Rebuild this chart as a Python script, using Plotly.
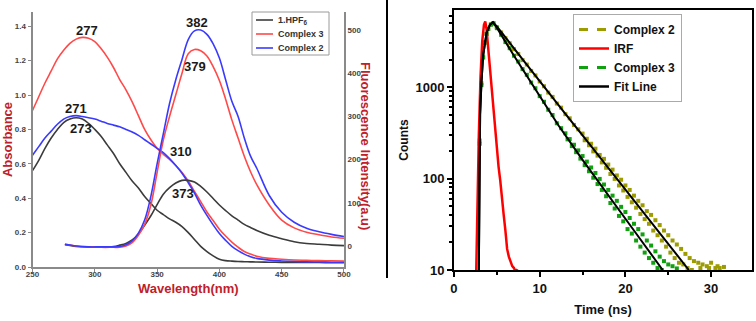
import plotly.graph_objects as go

# ---------------- Left panel data ----------------
wl_abs = [250, 255, 260, 265, 270, 275, 280, 285, 290, 295, 300, 305, 310, 315, 320, 325, 330, 335,
          340, 345, 350, 355, 360, 365, 370, 375, 380, 385, 390, 395, 400, 405, 410, 415, 420, 425,
          430, 440, 450, 460, 470, 480, 490, 500]
abs_hpf = [0.56, 0.62, 0.69, 0.75, 0.80, 0.84, 0.86, 0.868, 0.86, 0.835, 0.80, 0.76, 0.71, 0.66, 0.60,
           0.55, 0.50, 0.46, 0.41, 0.37, 0.33, 0.305, 0.28, 0.26, 0.235, 0.20, 0.16, 0.12, 0.09, 0.065,
           0.045, 0.037, 0.034, 0.032, 0.031, 0.030, 0.029, 0.028, 0.027, 0.027, 0.026, 0.026, 0.025, 0.025]
abs_c3 = [0.91, 0.99, 1.07, 1.14, 1.21, 1.26, 1.30, 1.325, 1.335, 1.33, 1.31, 1.27, 1.22, 1.16, 1.09,
          1.03, 0.96, 0.88, 0.80, 0.74, 0.69, 0.655, 0.625, 0.59, 0.55, 0.50, 0.44, 0.38, 0.32, 0.27,
          0.22, 0.18, 0.145, 0.115, 0.09, 0.075, 0.063, 0.05, 0.045, 0.041, 0.039, 0.037, 0.036, 0.035]
abs_c2 = [0.65, 0.70, 0.75, 0.79, 0.83, 0.86, 0.875, 0.88, 0.875, 0.868, 0.86, 0.848, 0.835, 0.825, 0.815,
          0.80, 0.785, 0.765, 0.74, 0.715, 0.69, 0.665, 0.63, 0.59, 0.545, 0.49, 0.43, 0.36, 0.30, 0.245,
          0.195, 0.155, 0.12, 0.095, 0.075, 0.06, 0.05, 0.04, 0.035, 0.032, 0.03, 0.029, 0.028, 0.028]

wl_fl = [276, 285, 295, 305, 315, 320, 325, 330, 335, 340, 345, 350, 355, 360, 365, 370, 375, 380,
         385, 390, 395, 400, 405, 410, 415, 420, 425, 430, 440, 450, 460, 470, 480, 490, 500]
fl_hpf = [3, -1, -2, -2, -1, 2, 6, 14, 28, 48, 70, 96, 120, 135, 146, 152, 152, 148,
          138, 125, 110, 95, 82, 70, 60, 50, 43, 36, 25, 17, 10, 6, 4, 2, 1]
fl_c3 = [4, 0, -2, -3, -3, -3, 0, 8, 25, 50, 95, 170, 245, 300, 350, 400, 445, 455,
         452, 440, 415, 383, 340, 292, 250, 208, 172, 142, 95, 60, 42, 32, 26, 21, 18]
fl_c2 = [4, 0, -2, -2, -2, -1, 3, 12, 30, 60, 115, 190, 260, 330, 385, 432, 478, 498,
         500, 490, 468, 435, 385, 335, 300, 250, 208, 180, 117, 78, 55, 41, 33, 27, 22]

series_names = ["1.HPF<sub>6</sub>", "Complex 3", "Complex 2"]

peak_labels = ["277", "271", "273", "310", "373", "382", "379"]
peak_x = [293.7, 284.9, 288.9, 369.2, 370.8, 382.0, 380.4]
peak_y = [1.374, 0.92, 0.804, 0.671, 0.43, 1.419, 1.163]

# ---------------- Right panel data ----------------
t_irf = [2.6, 2.75, 2.9, 3.1, 3.3, 3.5, 3.65, 3.8, 4.0, 4.2, 4.4, 4.6, 4.8, 5.0, 5.2, 5.4, 5.6,
         5.8, 6.0, 6.2, 6.4, 6.6, 6.8, 7.0, 7.2, 7.4]
irf = [10, 60, 300, 1300, 3200, 4800, 5200, 4300, 2600, 1600, 950, 600, 370, 200, 135, 95, 58,
       40, 27, 17, 14, 12.5, 11, 10.5, 9.5, 10.2]

t_c2 = [3.0, 3.2, 3.4, 3.6, 3.8, 4.0, 4.3, 4.6, 5.0, 5.5, 6.0, 6.5, 7.0, 7.5, 8.0, 8.5, 9.0, 9.5,
        10.0, 10.5, 11.0, 11.5, 12.0, 12.5, 13.0, 13.5, 14.0, 14.5,
        15.0, 15.25, 15.5, 15.75, 16.0, 16.25, 16.5, 16.75, 17.0, 17.25, 17.5, 17.75, 18.0, 18.25,
        18.5, 18.75, 19.0, 19.25, 19.5, 19.75, 20.0, 20.25, 20.5, 20.75, 21.0, 21.25, 21.5, 21.75,
        22.0, 22.25, 22.5, 22.75, 23.0, 23.25, 23.5, 23.75, 24.0, 24.25, 24.5, 24.75, 25.0, 25.25,
        25.5, 25.75, 26.0, 26.25, 26.5, 26.75, 27.0, 27.25, 27.5, 27.75, 28.0, 28.25, 28.5, 28.75,
        29.0, 29.25, 29.5, 29.75, 30.0, 30.25, 30.5, 30.75, 31.0, 31.25, 31.5]
c2 = [260, 1100, 2150, 3100, 3850, 4350, 4850, 5000, 4520, 3950, 3420, 3010, 2590, 2300, 1970, 1760,
      1500, 1340, 1150, 1020, 870, 780, 660, 595, 505, 455, 385, 345,
      310, 262, 272, 231, 240, 198, 212, 178, 181, 150, 164, 131, 142, 112, 125, 99, 108, 84,
      97, 74, 84, 63, 75, 55, 65, 48, 57, 41, 51, 36, 44, 32, 40, 27, 35, 24, 31, 21, 27, 18,
      24, 15.5, 21, 13.5, 19, 12, 17, 11.5, 15, 10.5, 13.5, 10, 12.5, 9.5, 12, 10.5, 11.5, 9,
      11, 10.5, 12, 9, 10.5, 11, 10.5, 9, 10.8]

t_c3 = [3.0, 3.2, 3.4, 3.6, 3.8, 4.0, 4.3, 4.6, 5.0, 5.5, 6.0, 6.5, 7.0, 7.5, 8.0, 8.5, 9.0, 9.5,
        10.0, 10.5, 11.0, 11.5, 12.0, 12.5,
        13.0, 13.25, 13.5, 13.75, 14.0, 14.25, 14.5, 14.75, 15.0, 15.25, 15.5, 15.75, 16.0, 16.25,
        16.5, 16.75, 17.0, 17.25, 17.5, 17.75, 18.0, 18.25, 18.5, 18.75, 19.0, 19.25, 19.5, 19.75,
        20.0, 20.25, 20.5, 20.75, 21.0, 21.25, 21.5, 21.75, 22.0, 22.25, 22.5, 22.75, 23.0, 23.25,
        23.5, 23.75, 24.0, 24.25, 24.5, 24.75, 25.0, 25.25, 25.5, 25.75, 26.0]
c3 = [240, 1050, 2100, 3050, 3800, 4300, 4800, 4950, 4400, 3720, 3100, 2660, 2200, 1900, 1570, 1360,
      1120, 970, 795, 690, 565, 495, 402, 355,
      312, 268, 270, 226, 234, 194, 203, 165, 176, 140, 153, 120, 132, 102, 115, 87, 99, 75,
      86, 64, 75, 54, 65, 47, 57, 39, 49, 34, 43, 28, 37, 25, 32, 21, 28, 18, 24.5, 15.5,
      21, 13.5, 18.5, 12, 16, 10.5, 14, 10, 12.5, 9.5, 11.5, 9, 11, 9.5, 10.4]

t_fit2 = [2.9, 2.95, 3.05, 3.2, 3.4, 3.8, 4.2, 4.55, 5.0, 7.0, 10.0, 13.0, 16.0, 20.0, 24.0, 27.4]
fit2 = [10, 100, 500, 1100, 2200, 3900, 4800, 5100, 4600, 2650, 1150, 510, 226, 76, 26, 10]
t_fit3 = [2.9, 2.95, 3.05, 3.2, 3.4, 3.8, 4.2, 4.55, 5.0, 7.0, 10.0, 12.2, 15.0, 18.0, 21.0, 24.35]
fit3 = [10, 100, 500, 1100, 2200, 3900, 4800, 5100, 4450, 2200, 800, 380, 160, 65, 27, 10]

# ---------------- styling ----------------
W, H = 756, 321
FONT = "Arial, Liberation Sans, sans-serif"
RED_T = "#c0202a"
LEFT_COLORS = ["#3c3c3c", "#ff4a4a", "#3a3aff"]
OLIVE = "#9c9c00"
GREEN = "#10a010"


def px(x):
    return x / W


def py(y):
    return 1 - y / H


fig = go.Figure()

# absorbance (left axis)
for name, ys, col in zip(series_names, [abs_hpf, abs_c3, abs_c2], LEFT_COLORS):
    fig.add_trace(go.Scatter(x=wl_abs, y=ys, mode="lines", name=name, showlegend=False,
                             line=dict(color=col, width=1.6, shape="spline"), xaxis="x", yaxis="y"))
# fluorescence (right axis)
for name, ys, col in zip(series_names, [fl_hpf, fl_c3, fl_c2], LEFT_COLORS):
    fig.add_trace(go.Scatter(x=wl_fl, y=ys, mode="lines", name=name, showlegend=False,
                             line=dict(color=col, width=1.6, shape="spline"), xaxis="x", yaxis="y2"))

# right panel data
fig.add_trace(go.Scatter(x=t_c2, y=c2, mode="markers", name="Complex 2", showlegend=False, legendgroup="c2",
                         marker=dict(color=OLIVE, size=4, symbol="square"), xaxis="x2", yaxis="y3"))
fig.add_trace(go.Scatter(x=t_c3, y=c3, mode="markers", name="Complex 3", showlegend=False, legendgroup="c3",
                         marker=dict(color=GREEN, size=4, symbol="square"), xaxis="x2", yaxis="y3"))
fig.add_trace(go.Scatter(x=t_irf, y=irf, mode="lines", name="IRF", showlegend=False, legendgroup="irf",
                         line=dict(color="#ff0000", width=2.5), xaxis="x2", yaxis="y3"))
fig.add_trace(go.Scatter(x=t_fit2, y=fit2, mode="lines", name="Fit Line", showlegend=False, legendgroup="fit",
                         line=dict(color="#000000", width=2), xaxis="x2", yaxis="y3"))
fig.add_trace(go.Scatter(x=t_fit3, y=fit3, mode="lines", name="Fit Line", showlegend=False, legendgroup="fit",
                         line=dict(color="#000000", width=2), xaxis="x2", yaxis="y3"))
# legend entries for the right panel
for name, col, dash, grp in [("Complex 2", OLIVE, "dash", "c2"), ("IRF", "#ff0000", "solid", "irf"),
                             ("Complex 3", GREEN, "dash", "c3"), ("Fit Line", "#000000", "solid", "fit")]:
    fig.add_trace(go.Scatter(x=[None], y=[None], mode="lines", name=name, legendgroup=grp,
                             line=dict(color=col, width=3 if dash == "dash" else 2.5, dash=dash),
                             xaxis="x2", yaxis="y3"))

annotations = [dict(x=x, y=y, text=f"<b>{s}</b>", xref="x", yref="y", showarrow=False,
                    font=dict(family=FONT, size=13, color="#1a1a1a"))
               for s, x, y in zip(peak_labels, peak_x, peak_y)]

# right-hand axis title of the left panel (reads top to bottom)
annotations.append(dict(x=px(366), y=py(146), xref="paper", yref="paper", showarrow=False, textangle=90,
                        text="<b>Fluorescence Intensity(a.u)</b>",
                        font=dict(family=FONT, size=13, color=RED_T)))

# hand-drawn legend of the left panel
shapes = [dict(type="rect", xref="paper", yref="paper", x0=px(252), x1=px(329), y0=py(55), y1=py(12),
               line=dict(color="#9a9a9a", width=1), fillcolor="white", layer="above")]
for i, (name, col) in enumerate(zip(series_names, LEFT_COLORS)):
    yy = 20 + 14 * i
    shapes.append(dict(type="line", xref="paper", yref="paper", x0=px(256), x1=px(273), y0=py(yy), y1=py(yy),
                       line=dict(color=col, width=1.6), layer="above"))
    annotations.append(dict(x=px(276), y=py(yy), xref="paper", yref="paper", xanchor="left", yanchor="middle",
                            showarrow=False, text=f"<b>{name}</b>",
                            font=dict(family=FONT, size=9, color="#333")))

# divider
shapes.append(dict(type="line", xref="paper", yref="paper", x0=px(387), x1=px(387), y0=py(278), y1=1,
                   line=dict(color="#000", width=2)))

small_tick = dict(family=FONT, size=8, color="#444", weight="bold")
big_tick = dict(family=FONT, size=13, color="#111", weight="bold")

fig.update_layout(
    width=W, height=H, margin=dict(l=0, r=0, t=0, b=0),
    paper_bgcolor="white", plot_bgcolor="white",
    font=dict(family=FONT),
    showlegend=True,
    xaxis=dict(domain=[0.0430, 0.4550], anchor="y", range=[250, 500], tickvals=[250, 300, 350, 400, 450, 500],
               automargin=False, ticklabelstandoff=-5,
               showgrid=False, zeroline=False, showline=True, linecolor="#8a8a8a", linewidth=2,
               ticks="outside", ticklen=3, tickcolor="#8a8a8a", tickfont=small_tick,
               title=dict(text="<b>Wavelength(nm)</b>", font=dict(family=FONT, size=13, color=RED_T), standoff=6)),
    yaxis=dict(domain=[0.1682, 0.9626], anchor="x", range=[0, 1.4826], tickvals=[0, 0.2, 0.4, 0.6, 0.8, 1.0, 1.2, 1.4],
               automargin=False,
               tickformat=".1f", showgrid=False, zeroline=False, showline=True, linecolor="#8a8a8a", linewidth=2,
               ticks="outside", ticklen=3, tickcolor="#8a8a8a", tickfont=small_tick,
               title=dict(text="<b>Absorbance</b>", font=dict(family=FONT, size=13, color=RED_T), standoff=2)),
    yaxis2=dict(overlaying="y", side="right", anchor="x", range=[-48.6, 541.7], tickvals=[0, 100, 200, 300, 400, 500],
                automargin=False,
                showgrid=False, zeroline=False, showline=True, linecolor="#8a8a8a", linewidth=2,
                ticks="", tickfont=small_tick),
    xaxis2=dict(domain=[0.6005, 0.9947], anchor="y3", range=[0, 34.77], tickvals=[0, 10, 20, 30],
                automargin=False,
                showgrid=False, zeroline=False, showline=True, mirror=True, linecolor="#000", linewidth=2,
                ticks="outside", ticklen=5, tickwidth=1.5, tickcolor="#000", tickfont=big_tick,
                minor=dict(tickvals=[5, 15, 25], ticks="outside", ticklen=3, tickcolor="#000", showgrid=False),
                title=dict(text="<b>Time (ns)</b>", font=dict(family=FONT, size=13, color="#111"), standoff=10)),
    yaxis3=dict(domain=[0.1589, 0.9688], anchor="x2", type="log", range=[1, 3.842], tickvals=[10, 100, 1000],
                ticktext=["10", "100", "1000"], automargin=False,
                showgrid=False, zeroline=False, showline=True, mirror=True, linecolor="#000", linewidth=2,
                ticks="outside", ticklen=5, tickwidth=1.5, tickcolor="#000", tickfont=big_tick,
                minor=dict(tickvals=[20, 30, 40, 50, 60, 70, 80, 90, 200, 300, 400, 500, 600, 700, 800, 900,
                                     2000, 3000, 4000, 5000, 6000],
                           ticks="outside", ticklen=3, tickcolor="#000", showgrid=False),
                title=dict(text="<b>Counts</b>", font=dict(family=FONT, size=12, color="#111"), standoff=4)),
    legend=dict(x=px(573), y=py(14), xanchor="left", yanchor="top", bgcolor="white",
                bordercolor="#aaa", borderwidth=1, font=dict(family=FONT, size=12, color="#111", weight="bold"),
                tracegroupgap=0, itemwidth=30),
    annotations=annotations,
    shapes=shapes,
)

fig.write_html("out.html", config={"displayModeBar": False},
               post_script="document.body.style.margin='0px';document.body.style.overflow='hidden';")
